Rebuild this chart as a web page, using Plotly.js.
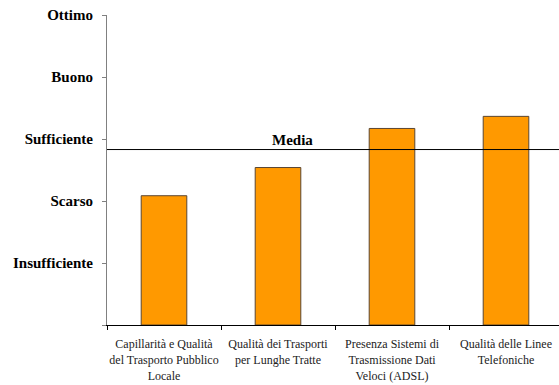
<!DOCTYPE html>
<html><head><meta charset="utf-8">
<script src="https://cdn.plot.ly/plotly-3.0.1.min.js"></script>
<style>html,body{margin:0;padding:0;overflow:hidden;background:#fff}</style>
</head><body><div id="chart"></div>
<script>
const categories = [
  "Capillarità e Qualità<br>del Trasporto Pubblico<br>Locale",
  "Qualità dei Trasporti<br>per Lunghe Tratte",
  "Presenza Sistemi di<br>Trasmissione Dati<br>Veloci (ADSL)",
  "Qualità delle Linee<br>Telefoniche"
];
const values = [2.085, 2.54, 3.17, 3.365];
const mediaValue = 2.83;
const yTickVals = [0, 1, 2, 3, 4, 5];
const yTickText = ["", "Insufficiente", "Scarso", "Sufficiente", "Buono", "Ottimo"];

const trace = {
  type: "bar", x: categories, y: values, width: 0.4,
  marker: {color: "#FF9900", line: {color: "#5a4632", width: 1}},
  hoverinfo: "none"
};
const layout = {
  width: 563, height: 385,
  margin: {l: 107, r: 0, t: 15, b: 60},
  paper_bgcolor: "#fff", plot_bgcolor: "#fff",
  showlegend: false,
  font: {family: "Liberation Serif", color: "#000"},
  xaxis: {
    type: "category", tickson: "boundaries", ticks: "outside", ticklen: 4,
    tickcolor: "#000", showline: true, linecolor: "#000", linewidth: 1,
    showgrid: false, zeroline: false, fixedrange: true,
    tickfont: {family: "Liberation Serif", size: 12, color: "#222"}, tickangle: 0,
    ticklabelstandoff: 8
  },
  yaxis: {
    range: [0, 5], tickvals: yTickVals, ticktext: yTickText,
    ticks: "outside", ticklen: 4, tickcolor: "#808080",
    showline: true, linecolor: "#808080", linewidth: 1,
    showgrid: false, zeroline: false,
    tickfont: {family: "Liberation Serif", size: 15, color: "#000", weight: "bold"},
    ticklabelstandoff: 6
  },
  shapes: [{type: "line", xref: "paper", x0: 0, x1: 1, yref: "y", y0: mediaValue, y1: mediaValue,
    line: {color: "#000", width: 1}}],
  annotations: [{text: "<b>Media</b>", xref: "paper", x: 0.406, yref: "y", y: mediaValue,
    yanchor: "bottom", yshift: 0, showarrow: false,
    font: {family: "Liberation Serif", size: 15, color: "#000"}}]
};
Plotly.newPlot("chart", [trace], layout, {displayModeBar: false, staticPlot: true});
</script></body></html>
